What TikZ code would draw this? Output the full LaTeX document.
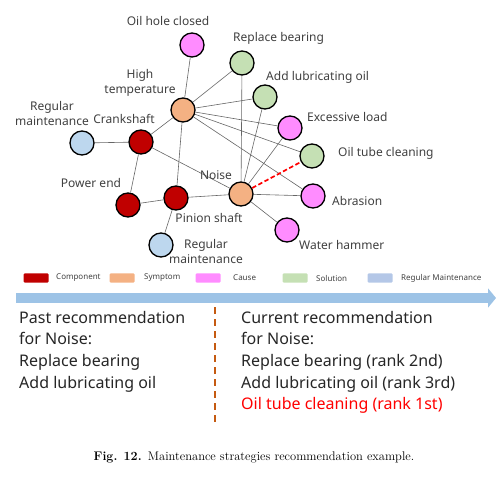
\documentclass[tikz,border=0pt]{standalone}
\usepackage{fontspec}
\setsansfont{Noto Sans}
\usetikzlibrary{arrows.meta, backgrounds}
\definecolor{comp}  {RGB}{192,0,0}
\definecolor{symp}  {RGB}{244,177,131}
\definecolor{cause} {RGB}{255,140,255}
\definecolor{soln}  {RGB}{197,224,180}
\definecolor{regm}  {RGB}{189,215,238}
\definecolor{lgregm}{RGB}{180,199,231}
\definecolor{tlblue}{RGB}{157,195,230}
\definecolor{dorange}{RGB}{197,90,17}
\definecolor{tgray} {RGB}{64,64,64}
\begin{document}
\begin{tikzpicture}[x=1pt, y=-1pt,
    ent/.style={circle, draw=black, line width=1.3pt, minimum size=24pt, inner sep=0pt},
    lbl/.style={font=\sffamily\fontsize{12}{15}\selectfont, text=tgray, align=center, inner sep=0pt},
    link/.style={draw=black!60, line width=0.6pt},
    swatch/.style={minimum width=25pt, minimum height=9pt, inner sep=0pt, rounded corners=1pt},
    lgtext/.style={font=\sffamily\fontsize{8}{9}\selectfont, text=tgray, anchor=west, inner sep=0pt},
    rectext/.style={font=\sffamily\fontsize{16}{21.6}\selectfont, text=black!85, align=left, anchor=north west, inner sep=0pt}]
  \useasboundingbox (0,0) rectangle (503,478);

  % graph nodes
  \node[ent, fill=cause] (ohc)   at (192,45)  {};
  \node[ent, fill=soln]  (rb)    at (242,63)  {};
  \node[ent, fill=soln]  (alo)   at (265,97)  {};
  \node[ent, fill=cause] (el)    at (290,128) {};
  \node[ent, fill=symp]  (ht)    at (183,110) {};
  \node[ent, fill=regm]  (rml)   at (82,143)  {};
  \node[ent, fill=comp]  (crank) at (141,142) {};
  \node[ent, fill=soln]  (otc)   at (312,156) {};
  \node[ent, fill=symp]  (noise) at (241,194) {};
  \node[ent, fill=cause] (abr)   at (313,196) {};
  \node[ent, fill=cause] (wh)    at (287,230) {};
  \node[ent, fill=comp]  (pe)    at (128,205) {};
  \node[ent, fill=comp]  (ps)    at (176,198) {};
  \node[ent, fill=regm]  (rmb)   at (161,245) {};

  \node[lbl] (ohc label)   at (168,21)  {Oil hole closed};
  \node[lbl, anchor=west] (rb label)  at (233,38)  {Replace bearing};
  \node[lbl, anchor=west] (alo label) at (266,77)  {Add lubricating oil};
  \node[lbl, anchor=west] (el label)  at (307,117) {Excessive load};
  \node[lbl, anchor=west] (otc label) at (338,153) {Oil tube cleaning};
  \node[lbl, anchor=west] (abr label) at (332,201) {Abrasion};
  \node[lbl, anchor=west] (wh label)  at (299,245) {Water hammer};
  \node[lbl] (ht label)    at (140,83)  {High\\temperature};
  \node[lbl] (rml label)   at (52,114)  {Regular\\maintenance};
  \node[lbl] (crank label) at (124,119) {Crankshaft};
  \node[lbl] (pe label)    at (91,183)  {Power end};
  \node[lbl] (noise label) at (216,175) {Noise};
  \node[lbl] (ps label)    at (209,218) {Pinion shaft};
  \node[lbl] (rmb label)   at (206,252) {Regular\\maintenance};

  \begin{scope}[on background layer]
    \foreach \a/\b in {ht/ohc, ht/rb, ht/alo, ht/el, ht/otc, ht/abr, ht/crank, ht/ps,
                       crank/rml, crank/pe, crank/noise, pe/ps, ps/noise, ps/rmb,
                       noise/rb, noise/alo, noise/el, noise/abr, noise/wh}
      \draw[link] (\a) -- (\b);
  \end{scope}
  \draw[red, line width=1.7pt, dash pattern=on 4.5pt off 2.5pt] (noise) -- (otc);

  % legend
  \node[swatch, fill=comp]   (lg comp) at (36,278)  {};
  \node[swatch, fill=symp]   (lg symp) at (122,278) {};
  \node[swatch, fill=cause]  (lg cause) at (208,278) {};
  \node[swatch, fill=soln]   (lg soln) at (295,278) {};
  \node[swatch, fill=lgregm] (lg regm) at (380,278) {};
  \node[lgtext] (lg comp text)  at (56,278)  {Component};
  \node[lgtext] (lg symp text)  at (144,278) {Symptom};
  \node[lgtext] (lg cause text) at (233,278) {Cause};
  \node[lgtext] (lg soln text)  at (316,278) {Solution};
  \node[lgtext] (lg regm text)  at (401,278) {Regular Maintenance};

  % timeline and divider
  \coordinate (tl start) at (16,298);
  \coordinate (tl end)   at (496,298);
  \draw[tlblue, line width=10pt, -{Triangle[length=8pt, width=19pt]}] (tl start) -- (tl end);
  \coordinate (div top) at (215,307);
  \coordinate (div bot) at (215,426);
  \draw[dorange, line width=1.2pt, dash pattern=on 7pt off 5pt] (div top) -- (div bot);

  \node[rectext] (past) at (19,311)
    {Past recommendation\\for Noise:\\Replace bearing\\Add lubricating oil};
  \node[rectext] (current) at (241,311)
    {Current recommendation\\for Noise:\\Replace bearing (rank 2nd)\\Add lubricating oil (rank 3rd)\\
     \textcolor{red}{Oil tube cleaning (rank 1st)}};

  \node[font=\fontsize{12.5}{14}\selectfont\addfontfeature{LetterSpace=3}, inner sep=0pt] (caption) at (254,457)
    {\textbf{Fig. 12.}\enspace Maintenance strategies recommendation example.};
\end{tikzpicture}
\end{document}
